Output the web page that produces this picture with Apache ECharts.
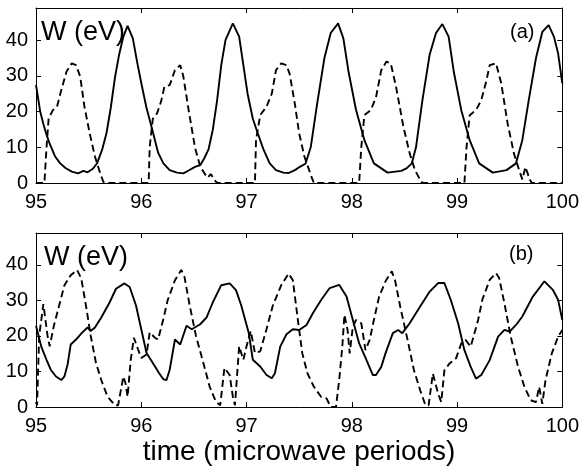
<!DOCTYPE html>
<html><head><meta charset="utf-8">
<script src="https://cdn.jsdelivr.net/npm/echarts@6/dist/echarts.min.js"></script>
<style>html,body{margin:0;padding:0;background:#fff}#c{width:582px;height:474px}</style>
</head><body><div id="c"></div>
<script>
const xTicks = [95, 96, 97, 98, 99, 100];
const yTicks = [0, 10, 20, 30, 40];
const panelLabels = ['(a)', '(b)'];
const yLabel = 'W (eV)';
const xTitle = 'time (microwave periods)';

const aSolid = [[95.00,27.5],[95.04,20],[95.07,16.5],[95.10,13.5],[95.13,11],[95.18,7.5],[95.23,5.5],[95.28,4.2],[95.34,3.2],[95.40,2.7],[95.45,3.4],[95.49,3.0],[95.54,4.0],[95.58,5.5],[95.63,9.5],[95.67,14],[95.71,21],[95.75,29.5],[95.79,36],[95.83,41],[95.87,44],[95.92,40.5],[95.96,34],[96.00,28],[96.05,21],[96.10,15.5],[96.16,8.5],[96.21,5.5],[96.27,3.6],[96.34,2.9],[96.40,2.7],[96.45,3.5],[96.51,4.5],[96.56,5],[96.60,7],[96.64,9.5],[96.68,15],[96.72,23],[96.76,33],[96.80,40],[96.87,44.7],[96.93,41],[96.97,33],[97.01,25],[97.06,18],[97.10,14.5],[97.16,9.5],[97.22,5.5],[97.28,3.6],[97.35,2.9],[97.40,2.8],[97.46,3.6],[97.51,4.6],[97.56,5.4],[97.61,10],[97.67,22],[97.74,35],[97.80,42],[97.87,44.7],[97.92,40.5],[97.97,31],[98.04,20.5],[98.12,12],[98.21,5.5],[98.34,2.9],[98.47,3.4],[98.52,4.1],[98.57,5.5],[98.61,10],[98.67,23],[98.74,36],[98.80,42],[98.86,44.5],[98.92,41],[98.97,31],[99.04,20.4],[99.12,12],[99.21,5.5],[99.34,2.9],[99.47,3.6],[99.56,5.5],[99.62,12],[99.68,23],[99.75,35],[99.81,42.3],[99.87,44.2],[99.92,41],[99.96,36.3],[100.00,27.9]];

const aDash = [[95.00,0],[95.08,0],[95.10,10],[95.12,18],[95.16,20.4],[95.20,21.4],[95.24,26],[95.29,31.2],[95.34,33.5],[95.38,33],[95.42,29.8],[95.46,21.4],[95.51,13.9],[95.56,7.4],[95.61,2.7],[95.64,0.3],[95.66,0],[96.07,0],[96.08,10],[96.11,18],[96.15,19.5],[96.19,23],[96.22,27],[96.27,27.4],[96.32,31.6],[96.37,33],[96.40,29.8],[96.45,20.4],[96.51,10],[96.56,4.6],[96.60,2.7],[96.63,1.5],[96.66,2.5],[96.71,0.3],[96.73,0],[97.08,0],[97.09,12],[97.13,19],[97.19,21.4],[97.24,25],[97.28,31.6],[97.33,33.5],[97.38,33],[97.41,30.5],[97.46,22],[97.50,13.9],[97.55,7.4],[97.62,1.5],[97.64,0],[98.07,0],[98.09,10],[98.12,19],[98.18,20.4],[98.23,24],[98.28,31.6],[98.33,34],[98.37,33.5],[98.42,27],[98.49,15.8],[98.55,8.3],[98.60,3.6],[98.66,0.3],[98.68,0],[99.07,0],[99.09,10],[99.12,19],[99.18,20.4],[99.23,23.2],[99.28,28.8],[99.31,33],[99.37,33.5],[99.42,27.9],[99.48,16.7],[99.54,8.3],[99.59,3.6],[99.62,1],[99.65,4.5],[99.69,1],[99.71,0],[100.00,0]];

const bSolid = [[95.00,22.9],[95.05,17],[95.10,13.3],[95.14,10.5],[95.19,8.6],[95.24,7.6],[95.27,8.6],[95.30,12],[95.33,17.6],[95.38,19],[95.44,21],[95.49,22.4],[95.52,21.4],[95.56,22.4],[95.62,25.2],[95.70,29.5],[95.76,33.3],[95.84,34.8],[95.89,33.8],[95.95,28.6],[96.00,21.9],[96.05,15.2],[96.11,12.4],[96.17,9.5],[96.21,7.8],[96.24,7.6],[96.27,10.5],[96.32,19],[96.37,17.6],[96.43,22.9],[96.48,21.9],[96.56,23.3],[96.62,25.2],[96.68,29.5],[96.76,34.3],[96.84,34.8],[96.90,32.9],[96.95,28.6],[97.02,21],[97.06,13.3],[97.13,11.4],[97.19,9],[97.24,8.1],[97.27,9.5],[97.32,17],[97.38,20.5],[97.44,21.9],[97.50,21.7],[97.57,23.1],[97.63,26.4],[97.71,30.2],[97.79,33.5],[97.88,34.4],[97.95,31.1],[98.01,24.5],[98.07,17.9],[98.14,13.2],[98.20,9],[98.23,9],[98.28,11.3],[98.32,15.1],[98.39,20.8],[98.44,21.7],[98.48,20.8],[98.55,23.6],[98.63,27.4],[98.74,32.5],[98.82,34.9],[98.88,34.9],[98.94,30.2],[99.01,23.6],[99.07,16],[99.13,11.3],[99.18,8],[99.23,9],[99.31,13.2],[99.39,19.8],[99.45,21.7],[99.50,21.2],[99.56,23.1],[99.62,25.5],[99.72,31.1],[99.83,35.4],[99.91,33],[99.96,30.2],[100.00,24.5]];

const bDash = [[95.00,1.4],[95.01,0.5],[95.03,20],[95.07,29],[95.11,20],[95.13,17.1],[95.17,22.9],[95.22,28.6],[95.27,34.3],[95.33,37.1],[95.39,38.6],[95.43,36.2],[95.48,27.6],[95.52,20],[95.57,12.4],[95.62,7.6],[95.68,2.9],[95.75,0.5],[95.78,0.5],[95.83,8.6],[95.85,6.7],[95.87,2.9],[95.90,13.3],[95.93,19.5],[95.97,16.2],[96.00,13.8],[96.05,14.8],[96.08,21],[96.13,19.5],[96.16,19],[96.21,24.8],[96.25,30],[96.32,35.7],[96.38,38.6],[96.41,36.7],[96.46,28.6],[96.52,20],[96.59,12.4],[96.65,5.7],[96.71,1.4],[96.75,0.5],[96.79,11],[96.84,9],[96.87,2.9],[96.89,0.5],[96.93,17.1],[96.97,13.3],[97.00,17.1],[97.04,21.4],[97.08,15.2],[97.13,15.7],[97.19,21.9],[97.25,28.6],[97.33,34.3],[97.40,37.6],[97.44,35.7],[97.49,24],[97.53,15.1],[97.58,9.4],[97.64,5.7],[97.71,2.8],[97.76,2.4],[97.80,0],[97.85,0],[97.88,7.5],[97.91,17],[97.93,26],[97.96,21.7],[97.98,15.1],[98.01,22.6],[98.04,24.5],[98.09,23.6],[98.13,16],[98.17,18.9],[98.21,24.5],[98.26,31.1],[98.32,35.4],[98.38,38.2],[98.41,35.8],[98.46,28.3],[98.53,18.9],[98.59,10.4],[98.65,4.7],[98.70,0.5],[98.73,0.5],[98.77,9.4],[98.82,3.8],[98.85,1.4],[98.88,10.4],[98.93,12.3],[98.99,13.7],[99.04,17.9],[99.08,18.9],[99.13,17],[99.20,24.5],[99.24,30.2],[99.31,35.8],[99.37,37.7],[99.40,36.3],[99.45,29.2],[99.51,19.8],[99.58,11.3],[99.64,5.7],[99.70,1.9],[99.75,1.4],[99.78,5.7],[99.81,0.9],[99.84,7.5],[99.90,15.1],[99.96,19.8],[100.00,21.7]];

const FONT = 'Liberation Sans, Arial, Helvetica, sans-serif';
const XMIN = xTicks[0], XMAX = xTicks[xTicks.length - 1];
const YMIN = yTicks[0], YMAX = 49;

const grids = [
  { left: 36, right: 19, top: 8, height: 175 },
  { left: 36, right: 19, top: 233, height: 174 }
];

const xAxes = [], yAxes = [];
grids.forEach((g, i) => {
  xAxes.push({
    type: 'value', gridIndex: i, min: XMIN, max: XMAX, interval: 1, position: 'bottom',
    axisLine: { show: true, onZero: false, lineStyle: { color: '#000', width: 1 } },
    axisTick: { show: true, inside: true, length: 5, lineStyle: { color: '#000' } },
    axisLabel: { show: true, color: '#000', fontSize: 20, fontFamily: FONT, margin: 9 },
    splitLine: { show: false }
  });
  xAxes.push({
    type: 'value', gridIndex: i, min: XMIN, max: XMAX, interval: 1, position: 'top',
    axisLine: { show: true, onZero: false, lineStyle: { color: '#000', width: 1 } },
    axisTick: { show: true, inside: true, length: 5, lineStyle: { color: '#000' } },
    axisLabel: { show: false }, splitLine: { show: false }
  });
  yAxes.push({
    type: 'value', gridIndex: i, min: YMIN, max: YMAX, interval: 10, position: 'left',
    axisLine: { show: true, onZero: false, lineStyle: { color: '#000', width: 1 } },
    axisTick: { show: true, inside: true, length: 5, lineStyle: { color: '#000' } },
    axisLabel: { show: true, color: '#000', fontSize: 20, fontFamily: FONT, margin: 8, showMaxLabel: false,
      formatter: v => (yTicks.indexOf(v) >= 0 ? String(v) : '') },
    splitLine: { show: false }
  });
  yAxes.push({
    type: 'value', gridIndex: i, min: YMIN, max: YMAX, interval: 10, position: 'right',
    axisLine: { show: true, onZero: false, lineStyle: { color: '#000', width: 1 } },
    axisTick: { show: true, inside: true, length: 5, lineStyle: { color: '#000' } },
    axisLabel: { show: false }, splitLine: { show: false }
  });
});

function line(data, grid, dashed) {
  return {
    type: 'line', data: data, xAxisIndex: grid * 2, yAxisIndex: grid * 2,
    showSymbol: false, symbol: 'none', animation: false, clip: true,
    lineStyle: { color: '#000', width: 1.9, type: dashed ? [7, 4] : 'solid' }
  };
}

const chart = echarts.init(document.getElementById('c'), null, { renderer: 'canvas' });
chart.setOption({
  animation: false,
  backgroundColor: '#fff',
  grid: grids,
  xAxis: xAxes,
  yAxis: yAxes,
  series: [line(aSolid, 0, false), line(aDash, 0, true), line(bSolid, 1, false), line(bDash, 1, true)],
  graphic: [
    { type: 'text', x: 41, y: 33, style: { text: yLabel, font: '27px ' + FONT, fill: '#000', verticalAlign: 'middle' } },
    { type: 'text', x: 510, y: 32, style: { text: panelLabels[0], font: '20px ' + FONT, fill: '#000', verticalAlign: 'middle' } },
    { type: 'text', x: 44, y: 258, style: { text: yLabel, font: '27px ' + FONT, fill: '#000', verticalAlign: 'middle' } },
    { type: 'text', x: 509, y: 254, style: { text: panelLabels[1], font: '20px ' + FONT, fill: '#000', verticalAlign: 'middle' } },
    { type: 'text', x: 299, y: 452, style: { text: xTitle, font: '28px ' + FONT, fill: '#000', align: 'center', verticalAlign: 'middle' } }
  ]
});
</script></body></html>
